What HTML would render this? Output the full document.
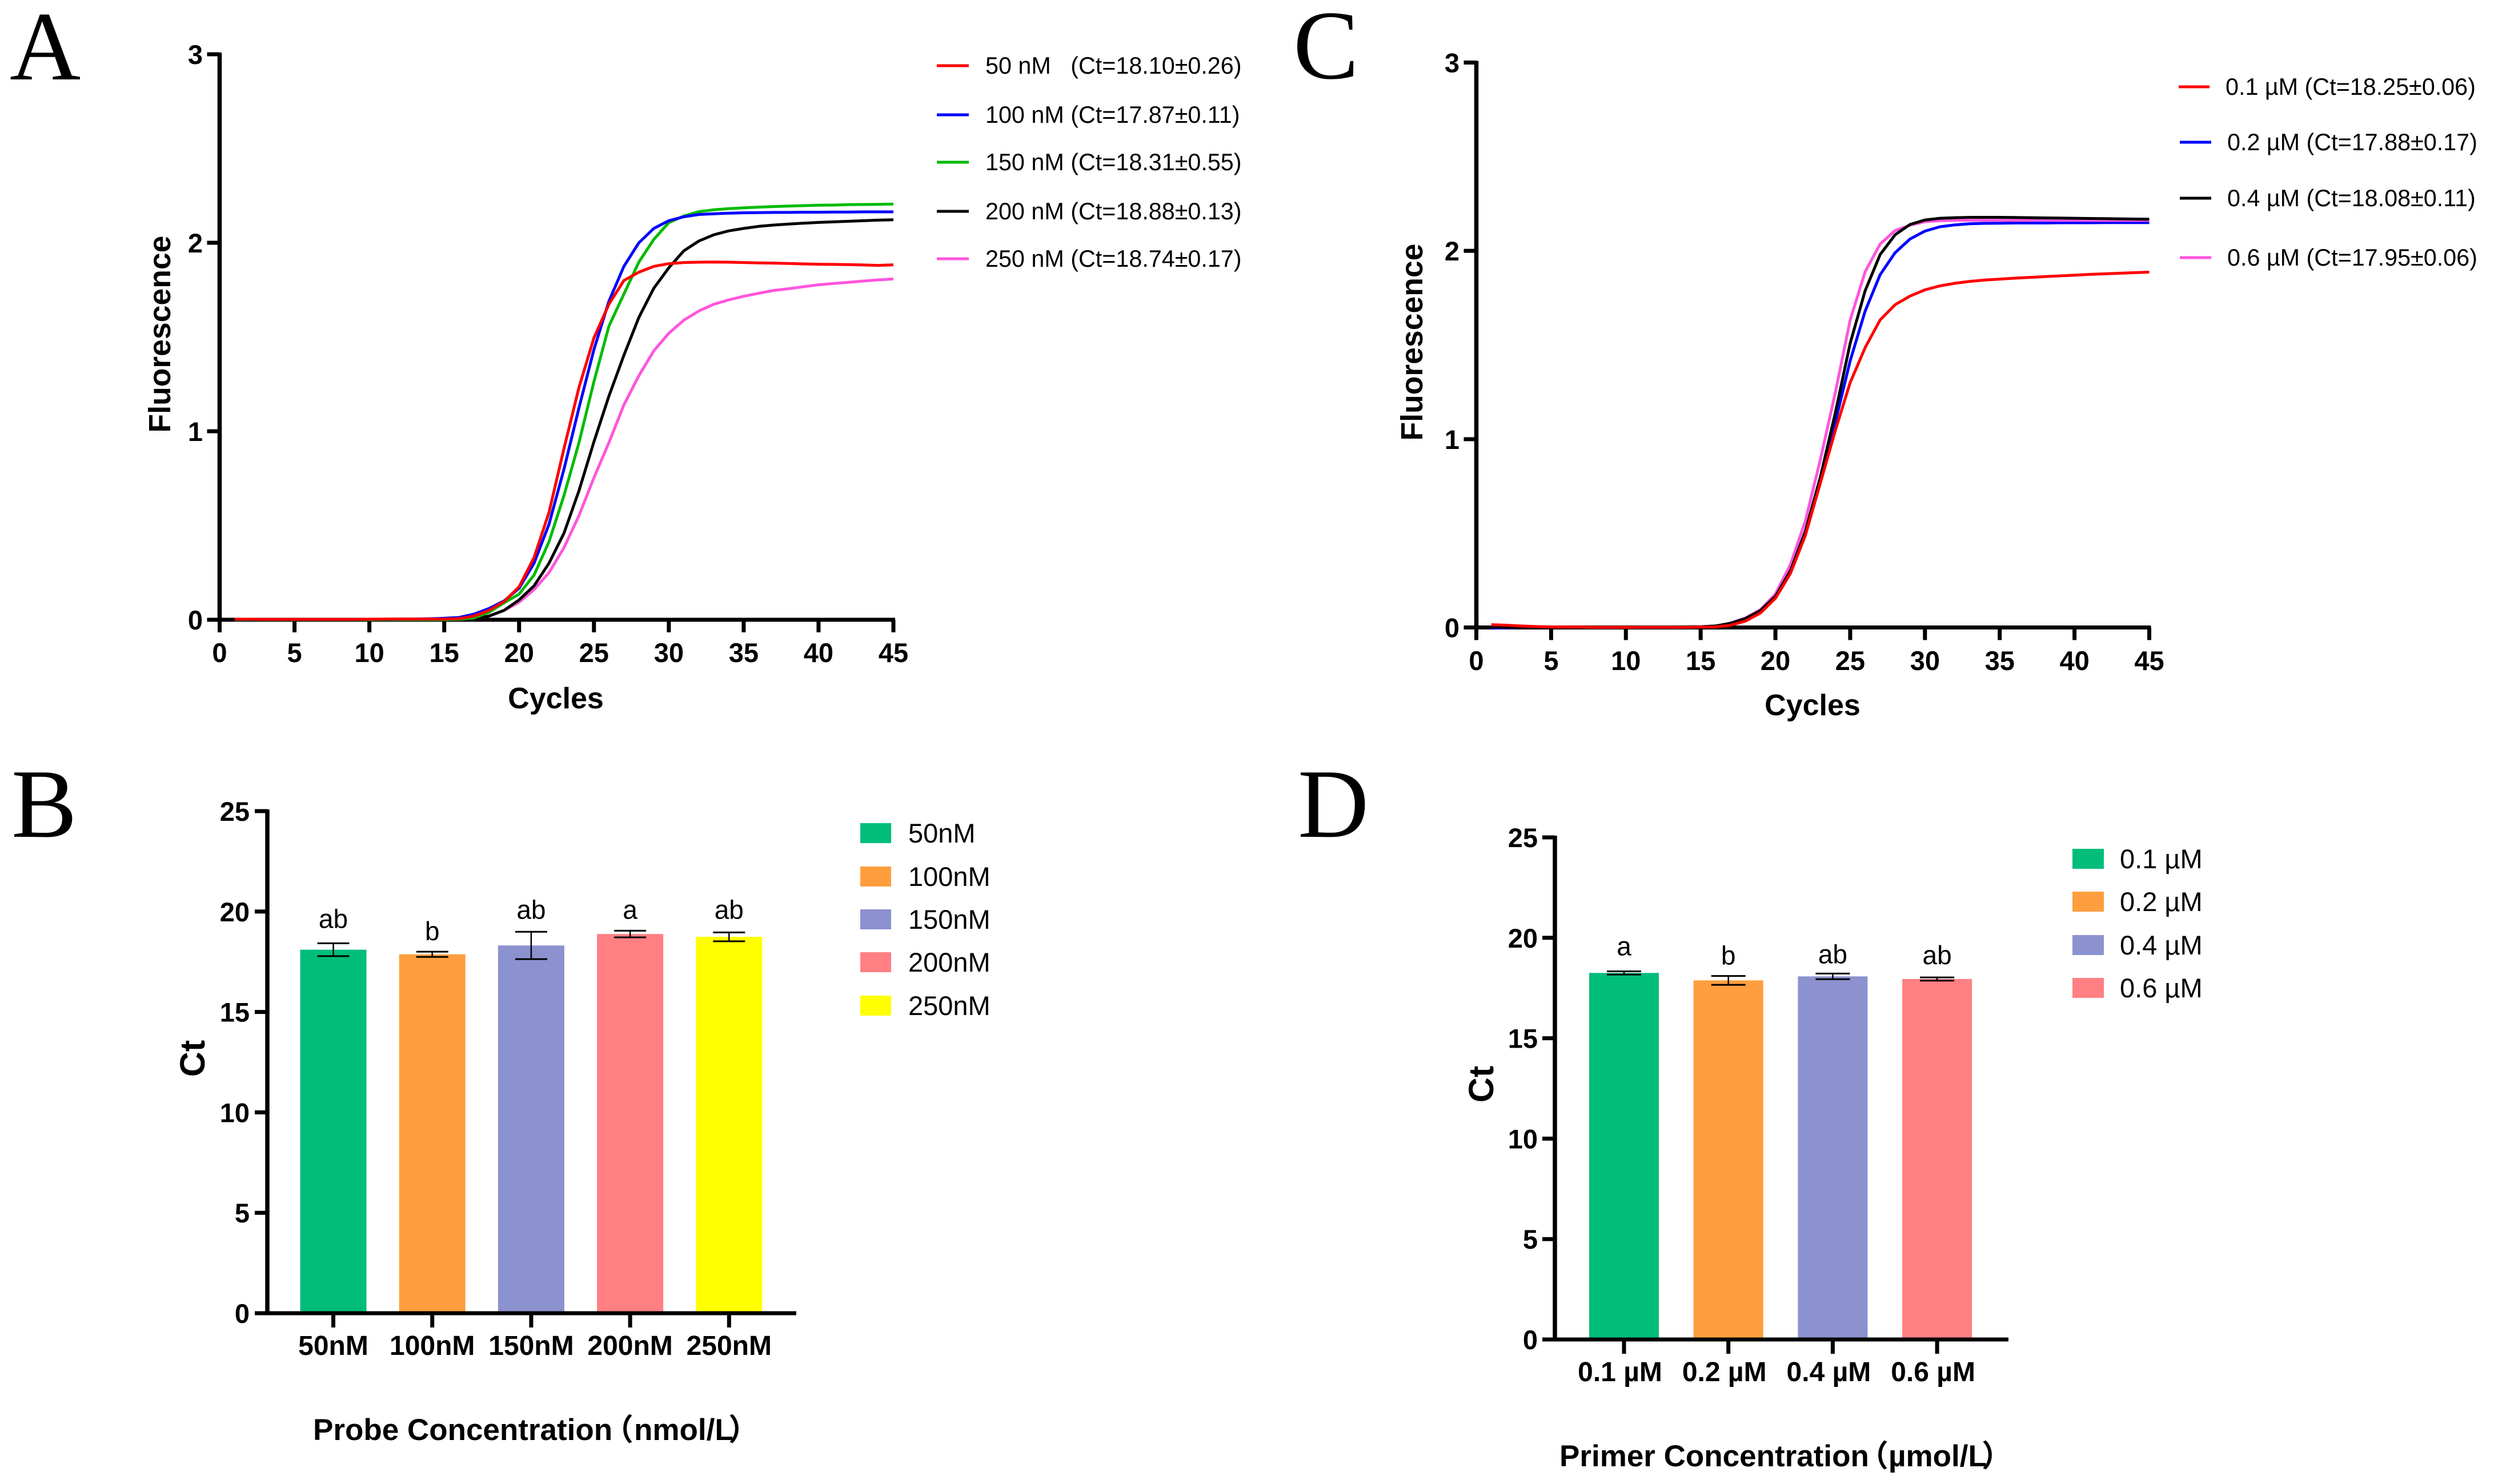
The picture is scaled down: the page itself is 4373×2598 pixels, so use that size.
<!DOCTYPE html>
<html lang="en">
<head>
<meta charset="utf-8">
<title>qPCR optimisation of probe and primer concentration</title>
<style>
html,body{margin:0;padding:0;background:#fff;}
svg{display:block;}
text{font-family:"Liberation Sans","Noto Sans CJK SC",sans-serif;fill:#000;white-space:pre;}
.letter{font-family:"Liberation Serif",serif;font-size:172px;}
.title{font-weight:bold;font-size:52px;}
.ftitle{font-weight:bold;font-size:53.5px;}
.ct{font-weight:bold;font-size:61px;}
.leg{font-size:41.3px;}
.leg2{font-size:47px;}
</style>
</head>
<body>
<svg id="fig" xmlns="http://www.w3.org/2000/svg" width="4373" height="2598" viewBox="0 0 4373 2598">
  <rect width="4373" height="2598" fill="#fff"/>

  <g id="panel-a">
    <text class="letter" x="17" y="139">A</text>
    <text class="ftitle" text-anchor="middle" transform="translate(298 585) rotate(-90)">Fluorescence</text>
    <text class="title" text-anchor="middle" x="973" y="1240">Cycles</text>
    <g>
      <line x1="1640" x2="1696" y1="115" y2="115" stroke="#ff0000" stroke-width="5"/>
      <text class="leg" x="1725" y="129">50 nM   (Ct=18.10±0.26)</text>
      <line x1="1640" x2="1696" y1="201" y2="201" stroke="#0000ff" stroke-width="5"/>
      <text class="leg" x="1725" y="215">100 nM (Ct=17.87±0.11)</text>
      <line x1="1640" x2="1696" y1="284" y2="284" stroke="#00bb00" stroke-width="5"/>
      <text class="leg" x="1725" y="298">150 nM (Ct=18.31±0.55)</text>
      <line x1="1640" x2="1696" y1="370" y2="370" stroke="#000000" stroke-width="5"/>
      <text class="leg" x="1725" y="384">200 nM (Ct=18.88±0.13)</text>
      <line x1="1640" x2="1696" y1="453" y2="453" stroke="#ff55dd" stroke-width="5"/>
      <text class="leg" x="1725" y="467">250 nM (Ct=18.74±0.17)</text>
    </g>
  </g>

  <g id="panel-c">
    <text class="letter" x="2264" y="137">C</text>
    <text class="ftitle" text-anchor="middle" transform="translate(2490 599) rotate(-90)">Fluorescence</text>
    <text class="title" text-anchor="middle" x="3173" y="1252">Cycles</text>
    <g>
      <line x1="3814" x2="3868" y1="152" y2="152" stroke="#ff0000" stroke-width="5"/>
      <text class="leg" x="3896" y="166">0.1 µM (Ct=18.25±0.06)</text>
      <line x1="3816" x2="3871" y1="249" y2="249" stroke="#0000ff" stroke-width="5"/>
      <text class="leg" x="3899" y="263">0.2 µM (Ct=17.88±0.17)</text>
      <line x1="3816" x2="3871" y1="347" y2="347" stroke="#000000" stroke-width="5"/>
      <text class="leg" x="3899" y="361">0.4 µM (Ct=18.08±0.11)</text>
      <line x1="3816" x2="3871" y1="451" y2="451" stroke="#ff55dd" stroke-width="5"/>
      <text class="leg" x="3899" y="465">0.6 µM (Ct=17.95±0.06)</text>
    </g>
  </g>

  <g id="panel-b">
    <text class="letter" x="20" y="1465">B</text>
    <text class="ct" text-anchor="middle" transform="translate(358 1853) rotate(-90)">Ct</text>
    <text class="title" x="548" y="2521" style="font-size:53px">Probe Concentration<tspan x="1056">（</tspan><tspan x="1110">nmol/L</tspan><tspan x="1275">）</tspan></text>
    <g>
      <rect x="1506" y="1441" width="54" height="35" fill="#00bd79"/>
      <text class="leg2" x="1590" y="1475">50nM</text>
      <rect x="1506" y="1517" width="54" height="35" fill="#fe9e3e"/>
      <text class="leg2" x="1590" y="1551">100nM</text>
      <rect x="1506" y="1592" width="54" height="35" fill="#8c91cf"/>
      <text class="leg2" x="1590" y="1626">150nM</text>
      <rect x="1506" y="1667" width="54" height="35" fill="#ff7f83"/>
      <text class="leg2" x="1590" y="1701">200nM</text>
      <rect x="1506" y="1743" width="54" height="35" fill="#ffff00"/>
      <text class="leg2" x="1590" y="1777">250nM</text>
    </g>
  </g>

  <g id="panel-d">
    <text class="letter" x="2272" y="1465">D</text>
    <text class="ct" text-anchor="middle" transform="translate(2614 1898) rotate(-90)">Ct</text>
    <text class="title" x="2730" y="2567" style="font-size:53px">Primer Concentration<tspan x="3253">（</tspan><tspan x="3306">µmol/L</tspan><tspan x="3469">）</tspan></text>
    <g>
      <rect x="3628" y="1486" width="55" height="35" fill="#00bd79"/>
      <text class="leg2" x="3711" y="1520">0.1 µM</text>
      <rect x="3628" y="1561" width="55" height="35" fill="#fe9e3e"/>
      <text class="leg2" x="3711" y="1595">0.2 µM</text>
      <rect x="3628" y="1637" width="55" height="35" fill="#8c91cf"/>
      <text class="leg2" x="3711" y="1671">0.4 µM</text>
      <rect x="3628" y="1712" width="55" height="35" fill="#ff7f83"/>
      <text class="leg2" x="3711" y="1746">0.6 µM</text>
    </g>
  </g>
</svg>

<script>
// ---- shared tick data ----
const cycleTicks = [0,5,10,15,20,25,30,35,40,45];
const fluorescenceTicks = [0,1,2,3];
const ctTicks = [0,5,10,15,20,25];
const cycles = [1,2,3,4,5,6,7,8,9,10,11,12,13,14,15,16,17,18,19,20,21,22,23,24,25,26,27,28,29,30,31,32,33,34,35,36,37,38,39,40,41,42,43,44,45];

// ---- panel A: probe concentration amplification curves ----
const probe50 = [.003,.003,.002,.002,.002,.002,.002,.002,.002,.003,.004,.004,.004,.004,.004,.006,.02,.05,.097,.175,.33,.57,.91,1.233,1.496,1.674,1.80,1.844,1.875,1.889,1.895,1.897,1.898,1.897,1.895,1.893,1.892,1.89,1.888,1.886,1.885,1.884,1.882,1.88,1.883];
const probe100 = [.002,.002,.002,.002,.002,.002,.002,.002,.002,.003,.003,.004,.004,.005,.008,.012,.03,.06,.10,.167,.30,.507,.80,1.125,1.434,1.69,1.875,2.0,2.076,2.117,2.138,2.15,2.154,2.157,2.159,2.16,2.161,2.161,2.162,2.162,2.163,2.163,2.164,2.164,2.164];
const probe150 = [.001,.001,.001,.001,.001,.001,.001,.001,.001,.001,.001,.001,.001,.001,.001,.002,.01,.04,.09,.136,.237,.414,.66,.94,1.264,1.558,1.728,1.898,2.018,2.107,2.142,2.165,2.175,2.181,2.185,2.189,2.192,2.195,2.197,2.199,2.2,2.202,2.203,2.204,2.205];
const probe200 = [.001,.001,.001,.001,.001,.001,.001,.001,.001,.001,.001,.001,.001,.001,.001,.002,.006,.02,.05,.105,.18,.30,.46,.685,.945,1.187,1.403,1.604,1.759,1.867,1.957,2.009,2.042,2.063,2.076,2.087,2.094,2.099,2.104,2.108,2.111,2.114,2.117,2.12,2.122];
const probe250 = [.001,.001,.001,.001,.001,.001,.001,.001,.001,.001,.001,.001,.001,.001,.001,.002,.006,.02,.05,.093,.16,.25,.383,.553,.754,.94,1.14,1.295,1.427,1.52,1.589,1.638,1.674,1.697,1.716,1.732,1.747,1.756,1.767,1.777,1.784,1.79,1.797,1.803,1.808];

// ---- panel C: primer concentration amplification curves ----
const primer01 = [.015,.012,.008,.005,.003,.002,.002,.001,.001,.001,.001,.001,.001,.001,.002,.003,.012,.034,.077,.155,.286,.488,.766,1.045,1.30,1.486,1.633,1.714,1.76,1.793,1.814,1.828,1.838,1.845,1.85,1.855,1.859,1.863,1.867,1.871,1.875,1.878,1.881,1.884,1.887];
const primer02 = [-.004,-.002,0,0,.001,.001,.001,.001,.001,.001,.002,.002,.002,.003,.004,.008,.023,.05,.09,.17,.31,.50,.78,1.09,1.416,1.68,1.873,1.99,2.063,2.105,2.128,2.138,2.144,2.146,2.147,2.148,2.148,2.148,2.149,2.149,2.149,2.15,2.15,2.15,2.15];
const primer04 = [.002,.001,.001,.001,.001,.001,.001,.001,.001,.001,.002,.002,.002,.003,.004,.008,.022,.048,.09,.165,.30,.51,.797,1.138,1.509,1.788,1.98,2.085,2.14,2.164,2.173,2.176,2.178,2.178,2.178,2.177,2.176,2.175,2.174,2.173,2.172,2.171,2.17,2.169,2.168];
const primer06 = [.002,.001,.001,.001,.001,.001,.001,.001,.001,.001,.002,.002,.002,.003,.004,.008,.023,.05,.095,.178,.333,.565,.89,1.246,1.633,1.889,2.036,2.108,2.136,2.155,2.16,2.162,2.162,2.162,2.162,2.162,2.162,2.162,2.162,2.162,2.162,2.162,2.162,2.162,2.162];

// ---- panel B: probe Ct bars ----
const probeCategories = ['50nM','100nM','150nM','200nM','250nM'];
const probeCt = [18.10,17.87,18.31,18.88,18.74];
const probeErr = [0.32,0.13,0.68,0.165,0.22];
const probeLetters = ['ab','b','ab','a','ab'];

// ---- panel D: primer Ct bars ----
const primerCategories = ['0.1 µM','0.2 µM','0.4 µM','0.6 µM'];
const primerCt = [18.25,17.88,18.08,17.95];
const primerErr = [0.08,0.22,0.14,0.08];
const primerLetters = ['a','b','ab','ab'];

const NS = 'http://www.w3.org/2000/svg';
function mk(tag, attrs, parent, txt) {
  const el = document.createElementNS(NS, tag);
  for (const k in attrs) el.setAttribute(k, attrs[k]);
  if (txt !== undefined) el.textContent = txt;
  parent.appendChild(el);
  return el;
}
function linear(d0, d1, r0, r1) {
  return function (v) { return r0 + (v - d0) * (r1 - r0) / (d1 - d0); };
}

function drawLineChart(panelId, box, series) {
  const host = document.getElementById(panelId);
  const x = linear(0, 45, box.x0, box.x1);
  const y = linear(0, 3, box.y0, box.y1);

  const xAxis = mk('line', {x1: box.x0 - 3, x2: box.x1 + 3, y1: box.y0, y2: box.y0, stroke: '#000', 'stroke-width': 7}, host);
  
  
  const yAxis = mk('line', {x1: box.x0, x2: box.x0, y1: box.y0, y2: box.y1 - 3, stroke: '#000', 'stroke-width': 7.5}, host);
  
  

  cycleTicks.forEach(function (t) {
    const tick = mk('line', {x1: x(t), x2: x(t), y1: box.y0, y2: box.y0 + 22, stroke: '#000', 'stroke-width': 7}, host);
    
    
    const lab = mk('text', {x: x(t), y: box.xLabelY, 'text-anchor': 'middle', 'font-weight': 'bold', 'font-size': 47}, host, String(t));
    
    
  });
  fluorescenceTicks.forEach(function (t) {
    const tick = mk('line', {x1: box.x0 - 22, x2: box.x0, y1: y(t), y2: y(t), stroke: '#000', 'stroke-width': 7}, host);
    
    
    const lab = mk('text', {x: box.yLabelX, y: y(t) + 17, 'text-anchor': 'end', 'font-weight': 'bold', 'font-size': 47}, host, String(t));
    
    
  });

  series.forEach(function (s) {
    const d = cycles.map(function (c, i) { return (i ? 'L' : 'M') + x(c).toFixed(1) + ' ' + y(s.values[i]).toFixed(1); }).join('');
    const path = mk('path', {d: d, fill: 'none', stroke: s.color, 'stroke-width': 5, 'stroke-linejoin': 'round'}, host);
    
    
  });
}

function drawBarChart(panelId, box, categories, values, errs, letters, colors) {
  const host = document.getElementById(panelId);
  const y = linear(0, 25, box.y0, box.y1);
  const cx = function (i) { return box.first + i * box.step; };

  categories.forEach(function (c, i) {
    const bar = mk('rect', {x: cx(i) - box.barW / 2, y: y(values[i]), width: box.barW, height: box.y0 - y(values[i]), fill: colors[i]}, host);
    
    

    const top = y(values[i] + errs[i]);
    const bot = y(values[i] - errs[i]);
    const stem = mk('line', {x1: cx(i), x2: cx(i), y1: top, y2: bot, stroke: '#000', 'stroke-width': 2.5}, host);
    
    
    [top, bot].forEach(function (v) {
      const cap = mk('line', {x1: cx(i) - box.capW / 2, x2: cx(i) + box.capW / 2, y1: v, y2: v, stroke: '#000', 'stroke-width': 3}, host);
      
      
    });

    const sig = mk('text', {x: cx(i), y: top - box.sigGap[i], 'text-anchor': 'middle', 'font-size': 46}, host, letters[i]);
    
    

    const tick = mk('line', {x1: cx(i), x2: cx(i), y1: box.y0, y2: box.y0 + 25, stroke: '#000', 'stroke-width': 7}, host);
    
    
    const lab = mk('text', {x: cx(i) + box.labelShift, y: box.xLabelY, 'text-anchor': 'middle', 'font-weight': 'bold', 'font-size': 48}, host, c);
    
    
  });

  const xAxis = mk('line', {x1: box.axisL, x2: box.axisR, y1: box.y0, y2: box.y0, stroke: '#000', 'stroke-width': 7}, host);
  
  
  const yAxis = mk('line', {x1: box.x0, x2: box.x0, y1: box.y0, y2: box.y1 - 3, stroke: '#000', 'stroke-width': 7.5}, host);
  
  

  ctTicks.forEach(function (t) {
    const tick = mk('line', {x1: box.axisL, x2: box.x0, y1: y(t), y2: y(t), stroke: '#000', 'stroke-width': 7}, host);
    
    
    const lab = mk('text', {x: box.yLabelX, y: y(t) + 17, 'text-anchor': 'end', 'font-weight': 'bold', 'font-size': 47}, host, String(t));
    
    
  });
}

drawLineChart('panel-a', {x0: 384.5, x1: 1564, y0: 1085, y1: 95, xLabelY: 1159, yLabelX: 355}, [
  {name: '250nm', color: '#ff55dd', values: probe250},
  {name: '200nm', color: '#000000', values: probe200},
  {name: '150nm', color: '#00bb00', values: probe150},
  {name: '100nm', color: '#0000ff', values: probe100},
  {name: '50nm', color: '#ff0000', values: probe50}
]);
drawLineChart('panel-c', {x0: 2584.5, x1: 3762.5, y0: 1098.5, y1: 109.5, xLabelY: 1173, yLabelX: 2555}, [
  {name: '0-2um', color: '#0000ff', values: primer02},
  {name: '0-6um', color: '#ff55dd', values: primer06},
  {name: '0-4um', color: '#000000', values: primer04},
  {name: '0-1um', color: '#ff0000', values: primer01}
]);
drawBarChart('panel-b', {x0: 468, axisL: 446, axisR: 1394, y0: 2299, y1: 1420, first: 583.5, step: 173.2, barW: 116, capW: 56, xLabelY: 2372, yLabelX: 437, labelShift: 0, sigGap: [27, 20, 23, 21, 24]},
  probeCategories, probeCt, probeErr, probeLetters, ['#00bd79','#fe9e3e','#8c91cf','#ff7f83','#ffff00']);
drawBarChart('panel-d', {x0: 2722, axisL: 2700, axisR: 3516, y0: 2345, y1: 1466, first: 2843, step: 182.7, barW: 122, capW: 60, xLabelY: 2418, yLabelX: 2692, labelShift: -7, sigGap: [28, 20, 18, 23]},
  primerCategories, primerCt, primerErr, primerLetters, ['#00bd79','#fe9e3e','#8c91cf','#ff7f83']);
</script>
</body>
</html>
